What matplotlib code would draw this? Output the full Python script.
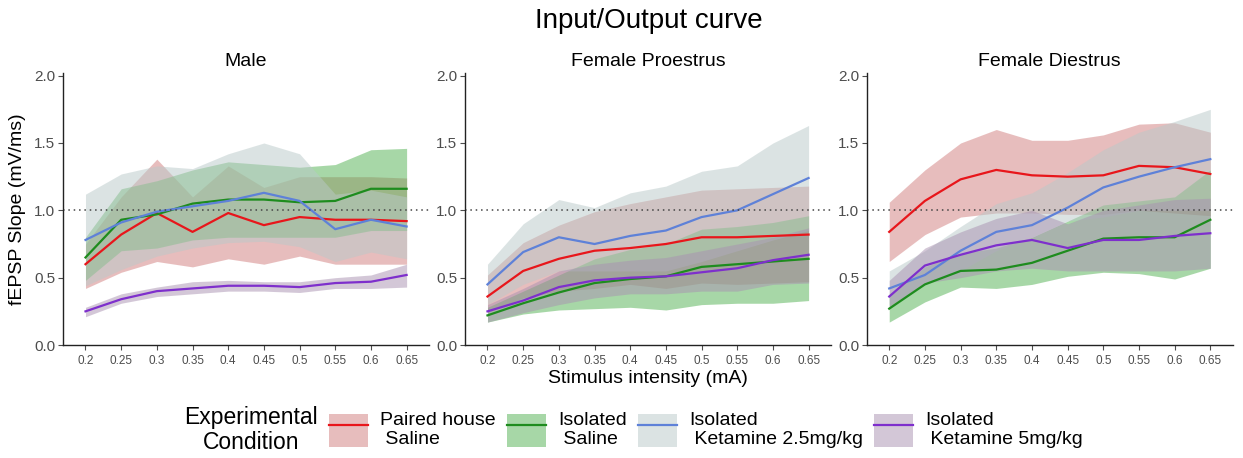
import matplotlib
matplotlib.use("Agg")
import matplotlib.pyplot as plt
from matplotlib.patches import Patch
from matplotlib.lines import Line2D
from matplotlib.legend_handler import HandlerTuple

plt.rcParams["font.family"] = ["Liberation Sans", "DejaVu Sans"]

# stimulus intensities (mA)
stim = [0.2, 0.25, 0.3, 0.35, 0.4, 0.45, 0.5, 0.55, 0.6, 0.65]
stim_labels = ["0.2", "0.25", "0.3", "0.35", "0.4", "0.45", "0.5", "0.55", "0.6", "0.65"]

panel_titles = ["Male", "Female Proestrus", "Female Diestrus"]
group_labels = ["Paired house\n Saline", "Isolated\n Saline",
                "Isolated\n Ketamine 2.5mg/kg", "Isolated\n Ketamine 5mg/kg"]

# --- Male ---
male_paired_mean = [0.60, 0.82, 0.98, 0.84, 0.98, 0.89, 0.95, 0.93, 0.93, 0.92]
male_paired_lo = [0.42, 0.54, 0.62, 0.58, 0.64, 0.60, 0.66, 0.60, 0.60, 0.60]
male_paired_hi = [0.75, 1.10, 1.38, 1.10, 1.33, 1.17, 1.25, 1.25, 1.25, 1.24]
male_iso_mean = [0.65, 0.93, 0.97, 1.05, 1.08, 1.08, 1.06, 1.07, 1.16, 1.16]
male_iso_lo = [0.48, 0.70, 0.72, 0.78, 0.80, 0.80, 0.80, 0.80, 0.85, 0.85]
male_iso_hi = [0.80, 1.16, 1.22, 1.30, 1.36, 1.34, 1.32, 1.34, 1.45, 1.46]
male_ket25_mean = [0.78, 0.91, 0.99, 1.03, 1.07, 1.13, 1.07, 0.86, 0.93, 0.88]
male_ket25_lo = [0.44, 0.56, 0.66, 0.72, 0.76, 0.77, 0.73, 0.62, 0.69, 0.64]
male_ket25_hi = [1.12, 1.27, 1.33, 1.31, 1.42, 1.50, 1.42, 1.12, 1.15, 1.10]
male_ket5_mean = [0.25, 0.34, 0.40, 0.42, 0.44, 0.44, 0.43, 0.46, 0.47, 0.52]
male_ket5_lo = [0.21, 0.31, 0.36, 0.38, 0.40, 0.40, 0.39, 0.42, 0.42, 0.43]
male_ket5_hi = [0.28, 0.38, 0.43, 0.47, 0.48, 0.47, 0.47, 0.50, 0.52, 0.60]

# --- Female Proestrus ---
pro_paired_mean = [0.36, 0.55, 0.64, 0.70, 0.72, 0.75, 0.80, 0.80, 0.81, 0.82]
pro_paired_lo = [0.24, 0.35, 0.40, 0.42, 0.45, 0.42, 0.46, 0.45, 0.46, 0.47]
pro_paired_hi = [0.52, 0.76, 0.89, 0.99, 1.05, 1.10, 1.15, 1.16, 1.17, 1.18]
pro_iso_mean = [0.22, 0.31, 0.39, 0.46, 0.49, 0.51, 0.58, 0.60, 0.62, 0.64]
pro_iso_lo = [0.17, 0.23, 0.26, 0.27, 0.28, 0.26, 0.30, 0.31, 0.31, 0.33]
pro_iso_hi = [0.28, 0.40, 0.52, 0.64, 0.71, 0.75, 0.86, 0.88, 0.91, 0.96]
pro_ket25_mean = [0.45, 0.69, 0.80, 0.75, 0.81, 0.85, 0.95, 1.00, 1.12, 1.24]
pro_ket25_lo = [0.30, 0.45, 0.55, 0.55, 0.55, 0.55, 0.62, 0.70, 0.78, 0.85]
pro_ket25_hi = [0.60, 0.90, 1.08, 1.02, 1.13, 1.18, 1.29, 1.33, 1.50, 1.63]
pro_ket5_mean = [0.25, 0.33, 0.43, 0.48, 0.50, 0.51, 0.54, 0.57, 0.63, 0.67]
pro_ket5_lo = [0.17, 0.24, 0.30, 0.35, 0.38, 0.38, 0.40, 0.40, 0.45, 0.46]
pro_ket5_hi = [0.30, 0.42, 0.55, 0.60, 0.63, 0.65, 0.70, 0.75, 0.80, 0.87]

# --- Female Diestrus ---
die_paired_mean = [0.84, 1.07, 1.23, 1.30, 1.26, 1.25, 1.26, 1.33, 1.32, 1.27]
die_paired_lo = [0.62, 0.82, 0.95, 0.98, 0.98, 0.97, 0.97, 1.00, 0.98, 0.96]
die_paired_hi = [1.06, 1.30, 1.50, 1.60, 1.52, 1.52, 1.56, 1.64, 1.65, 1.58]
die_iso_mean = [0.27, 0.45, 0.55, 0.56, 0.61, 0.70, 0.79, 0.80, 0.80, 0.93]
die_iso_lo = [0.17, 0.32, 0.43, 0.42, 0.45, 0.51, 0.54, 0.53, 0.49, 0.57]
die_iso_hi = [0.37, 0.58, 0.68, 0.72, 0.80, 0.92, 1.04, 1.07, 1.10, 1.30]
die_ket25_mean = [0.42, 0.52, 0.70, 0.84, 0.89, 1.02, 1.17, 1.25, 1.32, 1.38]
die_ket25_lo = [0.30, 0.45, 0.55, 0.70, 0.80, 0.92, 0.95, 1.00, 1.00, 1.00]
die_ket25_hi = [0.55, 0.70, 0.88, 1.05, 1.13, 1.28, 1.45, 1.58, 1.66, 1.75]
die_ket5_mean = [0.36, 0.59, 0.67, 0.74, 0.78, 0.72, 0.78, 0.78, 0.81, 0.83]
die_ket5_lo = [0.28, 0.46, 0.50, 0.55, 0.57, 0.55, 0.55, 0.55, 0.55, 0.57]
die_ket5_hi = [0.48, 0.72, 0.84, 0.94, 1.00, 0.90, 1.00, 1.04, 1.08, 1.09]

panels = [
    [(male_paired_mean, male_paired_lo, male_paired_hi),
     (male_iso_mean, male_iso_lo, male_iso_hi),
     (male_ket25_mean, male_ket25_lo, male_ket25_hi),
     (male_ket5_mean, male_ket5_lo, male_ket5_hi)],
    [(pro_paired_mean, pro_paired_lo, pro_paired_hi),
     (pro_iso_mean, pro_iso_lo, pro_iso_hi),
     (pro_ket25_mean, pro_ket25_lo, pro_ket25_hi),
     (pro_ket5_mean, pro_ket5_lo, pro_ket5_hi)],
    [(die_paired_mean, die_paired_lo, die_paired_hi),
     (die_iso_mean, die_iso_lo, die_iso_hi),
     (die_ket25_mean, die_ket25_lo, die_ket25_hi),
     (die_ket5_mean, die_ket5_lo, die_ket5_hi)],
]

line_colors = ["#E8161B", "#1E8C1E", "#5E81D8", "#7E2FCC"]
fill_colors = ["#D17D7D", "#51B151", "#B9C9C9", "#A991B1"]
fill_alpha = 0.5

fig = plt.figure(figsize=(12.43, 4.58), dpi=100)

axes_left = [0.0507, 0.3741, 0.6973]
for i, left in enumerate(axes_left):
    ax = fig.add_axes([left, 0.2467, 0.2945, 0.594])
    # ribbon then line for each group, so later ribbons tint earlier lines
    for (mean, lo, hi), lc, fc in zip(panels[i], line_colors, fill_colors):
        ax.fill_between(stim, lo, hi, color=fc, alpha=fill_alpha, linewidth=0)
        ax.plot(stim, mean, color=lc, linewidth=1.6)
    ax.axhline(1.0, color="#444444", linestyle=(0, (1, 2.5)), linewidth=1.1)

    ax.set_xlim(0.1685, 0.6815)
    ax.set_ylim(0, 2.02)
    ax.set_xticks(stim)
    ax.set_xticklabels(stim_labels)
    ax.set_yticks([0.0, 0.5, 1.0, 1.5, 2.0])
    ax.set_yticklabels(["0.0", "0.5", "1.0", "1.5", "2.0"])
    ax.tick_params(axis="x", labelsize=8.5, colors="#4D4D4D", length=3.5, width=0.8, pad=4)
    ax.tick_params(axis="y", labelsize=11, colors="#4D4D4D", length=3.5, width=0.8, pad=2)
    for side in ["top", "right"]:
        ax.spines[side].set_visible(False)
    for side in ["left", "bottom"]:
        ax.spines[side].set_color("#222222")
        ax.spines[side].set_linewidth(1.0)
    ax.set_title(panel_titles[i], fontsize=14, pad=5)
    if i == 0:
        ax.set_ylabel("fEPSP Slope (mV/ms)", fontsize=14, labelpad=6)
    if i == 1:
        ax.set_xlabel("Stimulus intensity (mA)", fontsize=14, labelpad=2)

fig.text(0.522, 0.955, "Input/Output curve", fontsize=20, ha="center", va="center")

# legend: filled swatch with the line drawn across it
handles = [(Patch(facecolor=fc, alpha=fill_alpha, edgecolor="none"),
            Line2D([], [], color=lc, linewidth=1.6))
           for lc, fc in zip(line_colors, fill_colors)]
fig.legend(handles, group_labels, handler_map={tuple: HandlerTuple(ndivide=1, pad=0)},
           ncol=4, loc="center left", bbox_to_anchor=(0.265, 0.061),
           frameon=False, fontsize=14, handlelength=2.0, handleheight=2.3,
           handletextpad=0.6, columnspacing=0.6, borderpad=0, borderaxespad=0)
fig.text(0.202, 0.061, "Experimental\nCondition", fontsize=16.5, ha="center",
         va="center", multialignment="center", linespacing=1.1)

fig.savefig("out.png", dpi=100)
